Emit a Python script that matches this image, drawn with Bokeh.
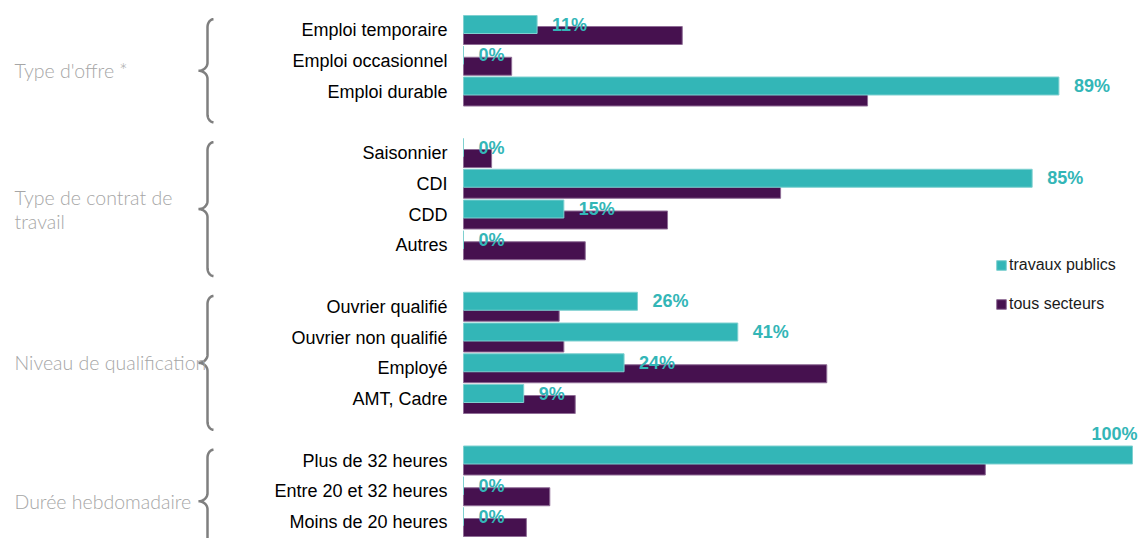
import math
from bokeh.plotting import figure
from bokeh.models import Range1d, ColumnDataSource, Legend, LegendItem
from bokeh.core.properties import value
from bokeh.embed import file_html
from bokeh.resources import INLINE

# ---------------- data ----------------
groups = ["Type d'offre *", "Type de contrat de\ntravail",
          "Niveau de qualification", "Durée hebdomadaire"]
group_categories = [
    ["Emploi temporaire", "Emploi occasionnel", "Emploi durable"],
    ["Saisonnier", "CDI", "CDD", "Autres"],
    ["Ouvrier qualifié", "Ouvrier non qualifié", "Employé", "AMT, Cadre"],
    ["Plus de 32 heures", "Entre 20 et 32 heures", "Moins de 20 heures"],
]
travaux_publics = [11, 0, 89, 0, 85, 15, 0, 26, 41, 24, 9, 100, 0, 0]
tous_secteurs = [32.7, 7.2, 60.4, 4.2, 47.4, 30.5, 18.2, 14.3, 15.0, 54.3,
                 16.7, 78.0, 12.9, 9.4]
series_names = ["travaux publics", "tous secteurs"]

# ---------------- style ----------------
TEAL = "#33b6b7"
TEAL_EDGE = "#7fd0d0"
PURPLE = "#46114f"
PURPLE_EDGE = "#8f6d96"
BRACE = "#7f7f7f"
GROUP_TXT = "#a6a6a6"
FONT = "Liberation Sans"

W, H = 1143, 538
PX_PER_PCT = 6.69
ZERO_PX = 463.0
SLOT_PX = 30.75
FIRST_SLOT_PX = 29.5

x0 = -ZERO_PX / PX_PER_PCT
x1 = (W - ZERO_PX) / PX_PER_PCT
y_top = -FIRST_SLOT_PX / SLOT_PX
y_bot = (H - FIRST_SLOT_PX) / SLOT_PX


def px_x(px):
    return x0 + px / PX_PER_PCT


def px_y(py):
    return y_top + py / SLOT_PX


# slot layout: one empty slot between groups
cats, slots, group_spans = [], [], []
s = 0
for gi, cl in enumerate(group_categories):
    start = s
    for c in cl:
        cats.append(c)
        slots.append(s)
        s += 1
    group_spans.append((start, s - 1))
    s += 1

BAR_H = 18 / SLOT_PX
OFF = 5.5 / SLOT_PX

p = figure(width=W, height=H, x_range=Range1d(x0, x1),
           y_range=Range1d(y_bot, y_top), output_backend="svg",
           toolbar_location=None, x_axis_location=None, y_axis_location=None,
           min_border=0, outline_line_color=None)
p.xgrid.visible = False
p.ygrid.visible = False

src = ColumnDataSource(dict(
    cat=cats,
    y_tp=[v - OFF for v in slots],
    y_ts=[v + OFF for v in slots],
    y=slots,
    tp=travaux_publics,
    ts=tous_secteurs,
))

r_ts = p.hbar(y="y_ts", left=0, right="ts", height=BAR_H, source=src,
              fill_color=PURPLE, line_color=PURPLE_EDGE, line_width=1)
r_tp = p.hbar(y="y_tp", left=0, right="tp", height=BAR_H, source=src,
              fill_color=TEAL, line_color=TEAL_EDGE, line_width=1)

# category labels
p.text(x=0, y="y", text="cat", source=src, x_offset=-16,
       text_align="right", text_baseline="middle",
       text_font=value(FONT), text_font_size="18px", text_color="#000000")

# value labels for travaux publics
inside_x, inside_y, inside_t = [], [], []
above_x, above_y, above_t = [], [], []
for v, yy in zip(travaux_publics, slots):
    lab = f"{v:.0f}%"
    if ZERO_PX + v * PX_PER_PCT + 15 + 45 <= W:
        inside_x.append(v); inside_y.append(yy - OFF); inside_t.append(lab)
    else:
        above_x.append(v); above_y.append(yy - OFF - 21 / SLOT_PX); above_t.append(lab)

p.text(x=inside_x, y=inside_y, text=inside_t, x_offset=15,
       text_align="left", text_baseline="middle", text_font=value(FONT),
       text_font_size="18px", text_font_style="bold", text_color=TEAL)
p.text(x=above_x, y=above_y, text=above_t, x_offset=5,
       text_align="right", text_baseline="middle", text_font=value(FONT),
       text_font_size="18px", text_font_style="bold", text_color=TEAL)

# braces and group labels
LINE_PX, HOOK_PX, TIP_PX, R_PX = 207, 213, 198, 8
PAD_TOP, PAD_BOT = 0.35, 1.0
bx, by, gx, gy = [], [], [], []
N = 12
for (a, b) in group_spans:
    top_px = (a - PAD_TOP - y_top) * SLOT_PX
    bot_px = (b + PAD_BOT - y_top) * SLOT_PX
    mid_px = (top_px + bot_px) / 2
    dx = HOOK_PX - LINE_PX
    dm = LINE_PX - TIP_PX
    pts = []
    for i in range(N + 1):
        t = math.pi / 2 * i / N
        pts.append((HOOK_PX - dx * math.sin(t), top_px + R_PX - R_PX * math.cos(t)))
    for i in range(N + 1):
        t = math.pi / 2 * i / N
        pts.append((TIP_PX + dm * math.cos(t), mid_px - R_PX + R_PX * math.sin(t)))
    for i in range(N + 1):
        t = math.pi / 2 * i / N
        pts.append((TIP_PX + dm * math.sin(t), mid_px + R_PX - R_PX * math.cos(t)))
    for i in range(N + 1):
        t = math.pi / 2 * i / N
        pts.append((HOOK_PX - dx * math.cos(t), bot_px - R_PX + R_PX * math.sin(t)))
    bx.append([px_x(q[0]) for q in pts])
    by.append([px_y(q[1]) for q in pts])
    gx.append(px_x(14))
    gy.append(px_y(mid_px))

p.multi_line(xs=bx, ys=by, line_color=BRACE, line_width=2.5)
p.text(x=gx, y=gy, text=groups, text_align="left", text_baseline="middle",
       text_font=value("Lato Light, Lato, sans-serif"), text_font_size="19.5px",
       text_color=GROUP_TXT, text_line_height=1.05)

legend = Legend(items=[LegendItem(label=series_names[0], renderers=[r_tp]),
                       LegendItem(label=series_names[1], renderers=[r_ts])],
                location=(995, 225), orientation="vertical",
                glyph_width=12, glyph_height=12, label_height=12,
                label_standoff=2, spacing=21, padding=0, margin=0,
                border_line_color=None, background_fill_alpha=0,
                label_text_font=FONT, label_text_font_size="16px",
                label_text_color="#1a1a1a")
p.add_layout(legend, "center")

open("out.html", "w").write(file_html(p, INLINE))
